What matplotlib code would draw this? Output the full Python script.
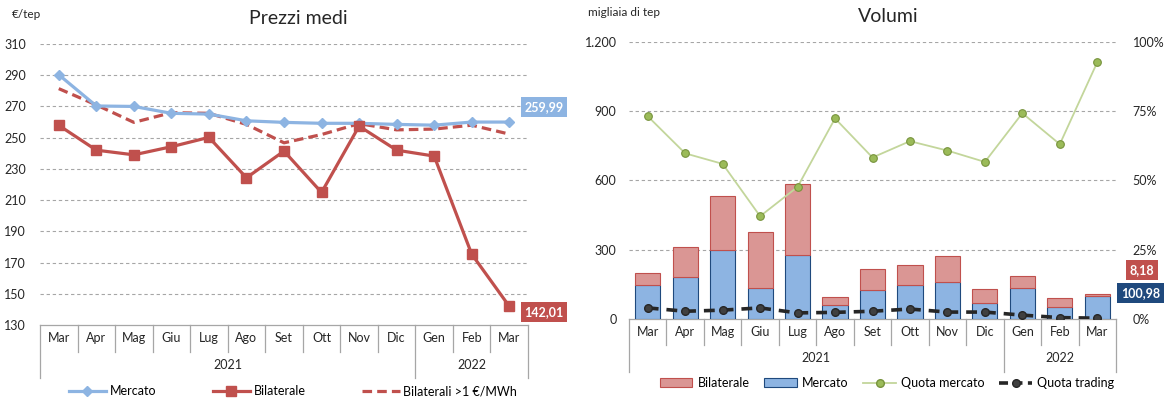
import numpy as np
import matplotlib
matplotlib.use("Agg")
import matplotlib.pyplot as plt
from matplotlib.patches import Patch
from matplotlib.lines import Line2D

plt.rcParams["font.family"] = ["Lato", "DejaVu Sans"]

mesi = ["Mar", "Apr", "Mag", "Giu", "Lug", "Ago", "Set", "Ott", "Nov", "Dic", "Gen", "Feb", "Mar"]
anni = ["2021", "2022"]
n_2021 = 10

# prezzi medi (€/tep)
prezzo_mercato = [290.3, 270.3, 270.0, 265.6, 265.1, 260.8, 259.8, 259.2, 259.2, 258.5, 258.0, 260.0, 259.99]
prezzo_bilaterale = [257.9, 242.0, 239.0, 244.2, 250.2, 224.3, 241.4, 214.9, 257.4, 242.0, 238.2, 175.4, 142.01]
prezzo_bil_1 = [281.4, 271.0, 259.8, 266.0, 265.6, 258.5, 246.7, 252.0, 259.0, 255.0, 255.5, 258.0, 252.3]

# volumi (migliaia di tep)
vol_mercato = [146, 183, 297, 135.5, 278, 62, 127, 148.5, 161.5, 69, 135.5, 53, 100.98]
vol_bilaterale = [54, 130, 237, 240, 309, 32, 91, 84, 110, 60, 51, 37, 8.18]
quota_mercato = [73.2, 59.8, 56.0, 37.1, 47.7, 72.4, 58.3, 64.2, 60.8, 56.7, 74.3, 63.1, 92.7]
quota_trading = [4.0, 2.8, 3.2, 4.0, 2.2, 2.4, 2.8, 3.6, 2.5, 2.5, 1.4, 0.5, 0.3]

BLU = "#8DB4E2"
BLU_SCURO = "#1F497D"
ROSSO = "#C0504D"
ROSA = "#DA9694"
VERDE = "#9BBB59"
GRIGIO = "#A6A6A6"
W, H = 1165, 401


def px_axes(fig, l, r, t, b):
    return fig.add_axes([l / W, (H - b) / H, (r - l) / W, (b - t) / H])


def asse_categorie(ax, h_ax, row1, row2):
    # multi-level category axis like Excel: months then years
    n = len(mesi)
    tr = ax.get_xaxis_transform()
    y1 = -row1 / h_ax
    y2 = -row2 / h_ax
    ax.plot([-0.5, n - 0.5], [0, 0], transform=tr, color=GRIGIO, lw=0.9, clip_on=False)
    for i in range(n + 1):
        x = i - 0.5
        low = y2 if i in (0, n_2021, n) else y1
        ax.plot([x, x], [0, low], transform=tr, color=GRIGIO, lw=0.9, clip_on=False)
    for i, m in enumerate(mesi):
        ax.text(i, y1 / 2, m, transform=tr, ha="center", va="center", fontsize=9, color="#262626")
    yc = (y1 + y2) / 2
    ax.text((n_2021 - 1) / 2, yc, anni[0], transform=tr, ha="center", va="center", fontsize=9, color="#262626")
    ax.text((n_2021 + n - 1) / 2, yc, anni[1], transform=tr, ha="center", va="center", fontsize=9, color="#262626")
    ax.set_xlim(-0.5, n - 0.5)
    ax.set_xticks([])
    for s in ax.spines.values():
        s.set_visible(False)


def etichetta(ax, x, y, testo, colore, dx, dy):
    ax.annotate(testo, xy=(x, y), xytext=(dx, dy), textcoords="offset points",
                ha="center", va="center", fontsize=9, fontweight="bold", color="white",
                bbox=dict(boxstyle="square,pad=0.3", fc=colore, ec="none"), annotation_clip=False)


fig = plt.figure(figsize=(W / 100, H / 100), dpi=100)
x = np.arange(len(mesi))

# ---- Prezzi medi
ax1 = px_axes(fig, 40, 528, 44, 325)
ax1.set_ylim(130, 310)
ax1.set_yticks(np.arange(130, 311, 20))
ax1.tick_params(axis="y", length=0, labelsize=9, pad=10, colors="#262626")
for v in range(150, 311, 20):
    ax1.axhline(v, color=GRIGIO, lw=0.8, ls=(0, (3, 2.5)), zorder=0)
asse_categorie(ax1, 281, 27, 53)

ax1.plot(x, prezzo_mercato, color=BLU, lw=2.3, marker="D", ms=5, label="Mercato", zorder=3)
ax1.plot(x, prezzo_bilaterale, color=ROSSO, lw=2.3, marker="s", ms=7, label="Bilaterale", zorder=4)
ax1.plot(x, prezzo_bil_1, color=ROSSO, lw=2.3, ls=(0, (3, 1.6)), label="Bilaterali >1 €/MWh", zorder=2)
etichetta(ax1, x[-1], prezzo_mercato[-1], "259,99", BLU, 25, 11)
etichetta(ax1, x[-1], prezzo_bilaterale[-1], "142,01", ROSSO, 25, -4)

fig.text(12 / W, 1 - 15 / H, "€/tep", fontsize=8.5, va="center", color="#262626")
fig.text(298 / W, 1 - 18 / H, "Prezzi medi", fontsize=14, ha="center", va="center", color="#262626")
h1, l1 = ax1.get_legend_handles_labels()
fig.legend(h1, l1, loc="center", bbox_to_anchor=(293 / W, 1 - 391 / H), ncol=3, frameon=False,
           fontsize=9, columnspacing=4.5, handlelength=3.0, handletextpad=0.3)

# ---- Volumi
ax2 = px_axes(fig, 629, 1116, 42, 319)
ax2.set_ylim(0, 1200)
ax2.set_yticks([0, 300, 600, 900, 1200])
ax2.set_yticklabels(["0", "300", "600", "900", "1.200"])
ax2.tick_params(axis="y", length=0, labelsize=9, pad=9, colors="#262626")
for v in (300, 600, 900, 1200):
    ax2.axhline(v, color=GRIGIO, lw=0.8, ls=(0, (3, 2.5)), zorder=0)
asse_categorie(ax2, 277, 26, 53)

ax2.bar(x, vol_mercato, width=0.67, color=BLU, edgecolor=BLU_SCURO, lw=0.8, label="Mercato", zorder=2)
ax2.bar(x, vol_bilaterale, width=0.67, bottom=vol_mercato, color=ROSA, edgecolor=ROSSO, lw=0.8,
        label="Bilaterale", zorder=2)

ax3 = ax2.twinx()
ax3.set_ylim(0, 100)
ax3.set_yticks([0, 25, 50, 75, 100])
ax3.set_yticklabels(["0%", "25%", "50%", "75%", "100%"])
ax3.tick_params(axis="y", length=0, labelsize=9, pad=12, colors="#262626")
for s in ax3.spines.values():
    s.set_visible(False)
ax3.plot(x, quota_mercato, color="#C3D69B", lw=1.3, marker="o", ms=5.5, mfc=VERDE, mec="#77933C",
         mew=0.8, label="Quota mercato", zorder=3)
ax3.plot(x, quota_trading, color="#262626", lw=2.6, ls=(0, (3, 2.2)), marker="o", ms=5.5,
         mfc="#404040", mec="#262626", label="Quota trading", zorder=3)

etichetta(ax2, x[-1], vol_mercato[-1] + vol_bilaterale[-1], "8,18", ROSSO, 32, 17)
etichetta(ax2, x[-1], vol_mercato[-1], "100,98", BLU_SCURO, 31, 2)

fig.text(588 / W, 1 - 12 / H, "migliaia di tep", fontsize=8.5, va="center", color="#262626")
fig.text(888 / W, 1 - 17 / H, "Volumi", fontsize=14, ha="center", va="center", color="#262626")
handles = [Patch(fc=ROSA, ec=ROSSO, lw=0.8), Patch(fc=BLU, ec=BLU_SCURO, lw=0.8),
           Line2D([], [], color="#C3D69B", lw=1.3, marker="o", ms=5.5, mfc=VERDE, mec="#77933C"),
           Line2D([], [], color="#262626", lw=2.6, ls=(0, (2.5, 1.5)), marker="o", ms=5.5, mfc="#404040")]
fig.legend(handles, ["Bilaterale", "Mercato", "Quota mercato", "Quota trading"], loc="center",
           bbox_to_anchor=(887 / W, 1 - 383 / H), ncol=4, frameon=False, fontsize=9,
           columnspacing=1.2, handlelength=2.6, handletextpad=0.4)

fig.savefig("out.png", dpi=100)
